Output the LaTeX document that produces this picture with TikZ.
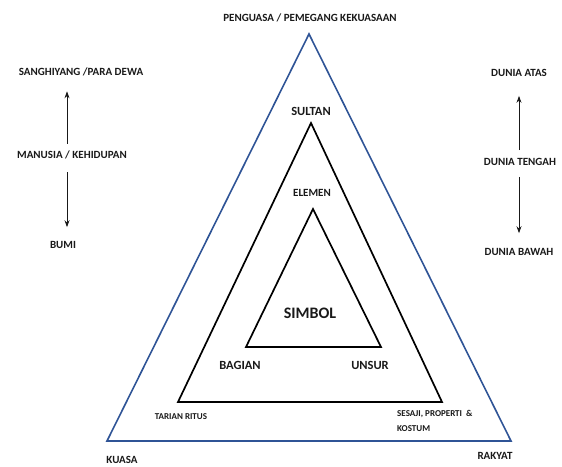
\documentclass[tikz,border=0pt]{standalone}
\usepackage{fontspec}
\setmainfont{Carlito}
\usetikzlibrary{arrows.meta}
\definecolor{biru}{RGB}{47,84,150}
\definecolor{teks}{RGB}{25,25,25}
\begin{document}
\begin{tikzpicture}[x=1pt, y=-1pt,
    every node/.style={font=\bfseries\fontsize{11}{13}\selectfont, text=teks, inner sep=1pt},
    kecil/.style={font=\bfseries\fontsize{9}{15}\selectfont},
    sedang/.style={font=\bfseries\fontsize{12.5}{14}\selectfont},
    besar/.style={font=\bfseries\fontsize{16}{18}\selectfont},
    panah/.style={-{Stealth[length=7pt,width=5pt]}, line width=0.9pt, teks}]
  \useasboundingbox (0,0) rectangle (562,466);

  % Triangles
  \draw[biru, line width=1.6pt, line join=miter] (107,441) -- (309,34) -- (511,441) -- cycle;
  \draw[black, line width=1.7pt] (178,402) -- (311,123) -- (442,402) -- cycle;
  \draw[black, line width=1.7pt] (246,347) -- (313,209) -- (381,347) -- cycle;

  % Labels round the triangles
  \node (penguasa) at (310,18) {PENGUASA / PEMEGANG KEKUASAAN};
  \node (kuasa) at (122,460) {KUASA};
  \node (rakyat) at (495,456) {RAKYAT};
  \node[sedang] (sultan) at (311,111) {SULTAN};
  \node (elemen) at (312,193) {ELEMEN};
  \node[besar] (simbol) at (310,313) {SIMBOL};
  \node[sedang] (bagian) at (240,365) {BAGIAN};
  \node[sedang] (unsur) at (370,365) {UNSUR};
  \node[kecil] (tarian) at (181,417) {TARIAN RITUS};
  \node[kecil, anchor=west, align=left] (sesaji) at (396,421) {SESAJI, PROPERTI~~\&\\KOSTUM};

  % Left column
  \coordinate (kiri) at (67,0);
  \node (sanghiyang) at (81,72) {SANGHIYANG /PARA DEWA};
  \node (manusia) at (72,155) {MANUSIA / KEHIDUPAN};
  \node (bumi) at (63,245) {BUMI};
  \draw[panah, shorten <=6pt, shorten >=14pt] (manusia.north -| kiri) -- (sanghiyang.south -| kiri);
  \draw[panah, shorten <=12pt, shorten >=13pt] (manusia.south -| kiri) -- (bumi.north -| kiri);

  % Right column
  \coordinate (kanan) at (519,0);
  \node (atas) at (519,73) {DUNIA ATAS};
  \node (tengah) at (520,162) {DUNIA TENGAH};
  \node (bawah) at (519,252) {DUNIA BAWAH};
  \draw[panah, shorten <=7pt, shorten >=18pt] (tengah.north -| kanan) -- (atas.south -| kanan);
  \draw[panah, shorten <=10pt, shorten >=14pt] (tengah.south -| kanan) -- (bawah.north -| kanan);
\end{tikzpicture}
\end{document}
